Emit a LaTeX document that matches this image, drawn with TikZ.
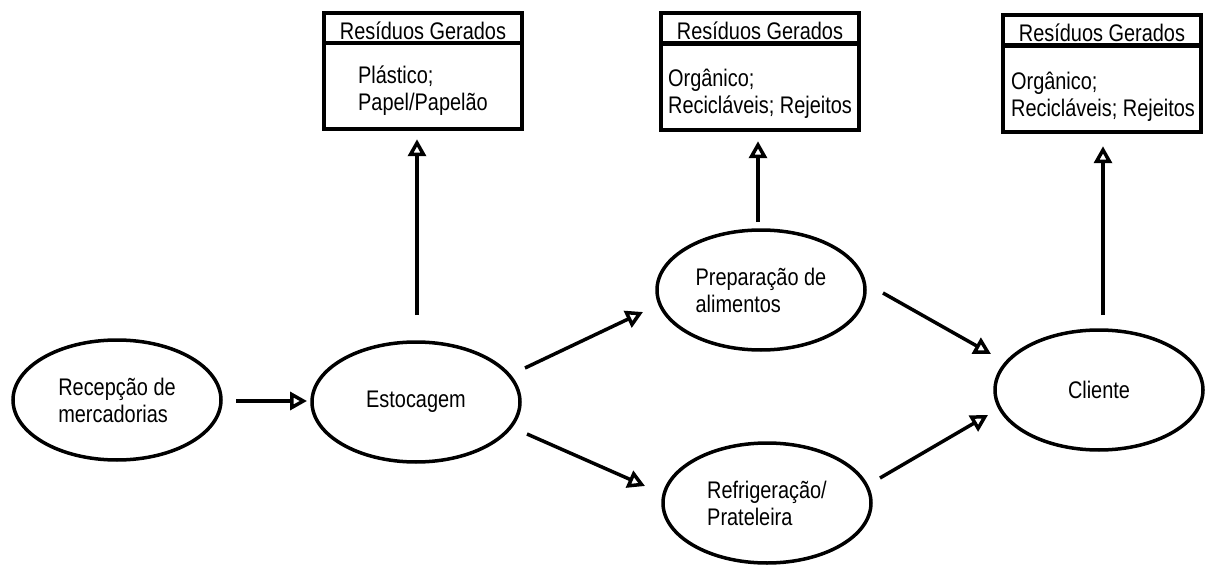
\documentclass[tikz,border=0pt]{standalone}
\usepackage{fontspec}
\setmainfont{Liberation Sans}[FakeStretch=0.83]
\usetikzlibrary{arrows.meta,shapes.geometric,calc}
\begin{document}
\begin{tikzpicture}[x=1pt,y=-1pt,
  every node/.style={font=\fontsize{24}{27}\selectfont},
  proc/.style={ellipse, draw, line width=3.5pt, minimum width=208pt, minimum height=120pt, inner sep=0pt, align=left},
  hdr/.style={draw, line width=4.5pt, minimum width=198pt, minimum height=30pt, inner sep=0pt, text height=24pt, text depth=0pt},
  bodybox/.style={draw, line width=4.5pt, minimum width=198pt, minimum height=86pt, inner sep=0pt},
  btxt/.style={align=left, inner sep=0pt},
  arr/.style={line width=3.5pt, -{Triangle[open, length=17pt, width=18pt]}}]
\useasboundingbox (0,0) rectangle (1208,567);

% process ellipses
\node[proc] (rec)  at (117,400)  {Recepção de\\mercadorias};
\node[proc] (esto) at (416,402)  {Estocagem};
\node[proc] (prep) at (761,290)  {Preparação de\\alimentos};
\node[proc] (refr) at (767,503)  {Refrigeração/\\Prateleira};
\node[proc] (cli)  at (1099,390) {Cliente};

% waste boxes
\node[hdr] (b1h) at (423,28) {Resíduos Gerados};
\node[bodybox] (b1) at (423,86) {};
\node[btxt] (b1t) at (423,91) {Plástico;\\Papel/Papelão};

\node[hdr] (b2h) at (760,28) {Resíduos Gerados};
\node[bodybox] (b2) at (760,87) {};
\node[btxt] (b2t) at (760,94) {Orgânico;\\Recicláveis; Rejeitos};

\node[hdr] (b3h) at (1102,30) {Resíduos Gerados};
\node[bodybox] (b3) at (1102,89) {};
\node[btxt] (b3t) at (1103,97) {Orgânico;\\Recicláveis; Rejeitos};

% flow arrows
\draw[arr] ($(rec)+(119,1)$) -- ($(esto)+(-109,-1)$);
\draw[arr] ($(esto)+(109,-34)$) -- ($(prep)+(-118,22)$);
\draw[arr] ($(esto)+(111,32)$) -- ($(refr)+(-122,-17)$);
\draw[arr] ($(prep)+(122,3)$) -- ($(cli)+(-108,-36)$);
\draw[arr] ($(refr)+(113,-25)$) -- ($(cli)+(-111,25)$);

% waste arrows
\draw[arr] ($(esto)+(1,-87)$) -- ($(b1.south)+(-6,8)$);
\draw[arr] ($(prep)+(-3,-68)$) -- ($(b2.south)+(-2,9)$);
\draw[arr] ($(cli)+(4,-75)$) -- ($(b3.south)+(1,12)$);
\end{tikzpicture}
\end{document}
